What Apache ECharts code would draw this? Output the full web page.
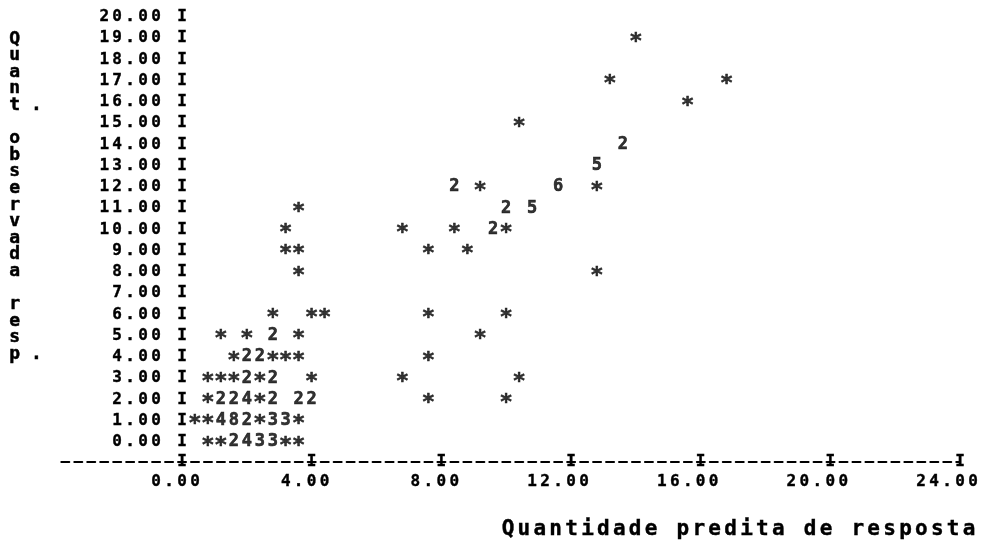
<!DOCTYPE html>
<html>
<head>
<meta charset="utf-8">
<script src="https://cdn.jsdelivr.net/npm/echarts@6/dist/echarts.min.js"></script>
<style>
  html, body { margin: 0; padding: 0; background: #ffffff; }
  #chart { width: 981px; height: 550px; }
</style>
</head>
<body>
<div id="chart"></div>
<script>
// Observed response against predicted quantity, drawn as a character plot:
// '*' marks one observation, a digit gives how many observations share the cell.

const predicted = [
  14.0,
  13.2, 16.8,
  15.6,
  10.4,
  13.6,
  12.8,
  8.4, 9.2, 11.6, 12.8,
  3.6, 10.0, 10.8,
  3.2, 6.8, 8.4, 9.6, 10.0,
  3.2, 3.6, 7.6, 8.8,
  3.6, 12.8,
  2.8, 4.0, 4.4, 7.6, 10.0,
  1.2, 2.0, 2.8, 3.6, 9.2,
  1.6, 2.0, 2.4, 2.8, 3.2, 3.6, 7.6,
  0.8, 1.2, 1.6, 2.0, 2.4, 2.8, 4.0, 6.8, 10.4,
  0.8, 1.2, 1.6, 2.0, 2.4, 2.8, 3.6, 4.0, 7.6, 10.0,
  0.4, 0.8, 1.2, 1.6, 2.0, 2.4, 2.8, 3.2, 3.6,
  0.8, 1.2, 1.6, 2.0, 2.4, 2.8, 3.2, 3.6
];

const observed = [
  19,
  17, 17,
  16,
  15,
  14,
  13,
  12, 12, 12, 12,
  11, 11, 11,
  10, 10, 10, 10, 10,
  9, 9, 9, 9,
  8, 8,
  6, 6, 6, 6, 6,
  5, 5, 5, 5, 5,
  4, 4, 4, 4, 4, 4, 4,
  3, 3, 3, 3, 3, 3, 3, 3, 3,
  2, 2, 2, 2, 2, 2, 2, 2, 2, 2,
  1, 1, 1, 1, 1, 1, 1, 1, 1,
  0, 0, 0, 0, 0, 0, 0, 0
];

const counts = [
  1,
  1, 1,
  1,
  1,
  2,
  5,
  2, 1, 6, 1,
  1, 2, 5,
  1, 1, 1, 2, 1,
  1, 1, 1, 1,
  1, 1,
  1, 1, 1, 1, 1,
  1, 1, 2, 1, 1,
  1, 2, 2, 1, 1, 1, 1,
  1, 1, 1, 2, 1, 2, 1, 1, 1,
  1, 2, 2, 4, 1, 2, 2, 2, 1, 1,
  1, 1, 4, 8, 2, 1, 3, 3, 1,
  1, 1, 2, 4, 3, 3, 1, 1
];

const xTicks = [0, 4, 8, 12, 16, 20, 24];
const yTitleLines = ['Q', 'u', 'a', 'n', 't .', '', 'o', 'b', 's', 'e', 'r', 'v', 'a', 'd', 'a', '', 'r', 'e', 's', 'p .'];
const xTitle = 'Quantidade predita de resposta';

// printer cell geometry: ten columns per 4 units on x
const CELL = 12.97;
const MONO = '"DejaVu Sans Mono", "Liberation Mono", monospace';
const INK = '#000000';
const GRID_LEFT = 58.8;
const ZERO_X = 182;

// wrap each character in a fixed-width rich-text cell
function cells(str, key) {
  return str.split('').map(function (c) { return '{' + key + '|' + c + '}'; }).join('');
}

const cellStyle = {
  width: CELL, align: 'center', fontFamily: MONO, fontWeight: 'bold',
  fontSize: 16, lineHeight: 20, color: INK,
  textBorderColor: INK, textBorderWidth: 0.4
};

const points = predicted.map(function (x, i) {
  const single = counts[i] === 1;
  return {
    value: [x, observed[i], counts[i]],
    label: single ? { fontSize: 22, offset: [0, 4] } : { fontSize: 17, offset: [0, 0] }
  };
});

const chart = echarts.init(document.getElementById('chart'), null, { renderer: 'canvas' });

chart.setOption({
  animation: false,
  backgroundColor: '#ffffff',
  textStyle: { fontFamily: MONO, color: INK },
  title: {
    text: cells(xTitle, 't'),
    right: 4,
    top: 520,
    padding: 0,
    textStyle: {
      rich: {
        t: {
          width: 15.9, align: 'center', fontFamily: MONO, fontWeight: 'bold',
          fontSize: 21, lineHeight: 20, color: INK, textBorderColor: INK, textBorderWidth: 0.4
        }
      }
    }
  },
  grid: {
    left: GRID_LEFT, right: 21, top: 17, bottom: 108,
    containLabel: false, outerBoundsMode: 'none'
  },
  xAxis: {
    type: 'value',
    min: -3.8,
    max: 24,
    offset: 20,
    splitLine: { show: false },
    axisTick: { show: false },
    axisLine: {
      show: true,
      onZero: false,
      lineStyle: { color: INK, width: 2, type: [8, 4.97], dashOffset: 10.47 }
    },
    axisLabel: {
      customValues: xTicks,
      margin: -10,
      formatter: function (v) {
        const s = v.toFixed(2);
        return '{c|I}\n' + cells(s + ' '.repeat(s.length - 3), 'c');
      },
      rich: { c: cellStyle }
    }
  },
  yAxis: {
    type: 'value',
    min: 0,
    max: 20,
    interval: 1,
    position: 'left',
    offset: GRID_LEFT - ZERO_X,
    splitLine: { show: false },
    axisTick: { show: false },
    axisLine: { show: false, onZero: false },
    axisLabel: {
      margin: -6.5,
      formatter: function (v) { return cells(v.toFixed(2) + ' I', 'c'); },
      rich: { c: cellStyle }
    }
  },
  series: [{
    type: 'scatter',
    data: points,
    symbolSize: 1,
    itemStyle: { color: 'rgba(0,0,0,0)' },
    emphasis: { disabled: true },
    label: {
      show: true,
      position: 'inside',
      fontFamily: MONO,
      fontWeight: 'bold',
      color: INK,
      textBorderColor: INK,
      textBorderWidth: 0.6,
      formatter: function (p) { return p.value[2] === 1 ? '*' : String(p.value[2]); }
    }
  }],
  graphic: [
    {
      type: 'text',
      left: 9,
      top: 29.7,
      style: {
        text: yTitleLines.join('\n'),
        fontFamily: MONO,
        fontWeight: 'bold',
        fontSize: 18,
        lineHeight: 16.6,
        fill: INK,
        stroke: INK,
        lineWidth: 0.5
      }
    }
  ]
});
</script>
</body>
</html>
